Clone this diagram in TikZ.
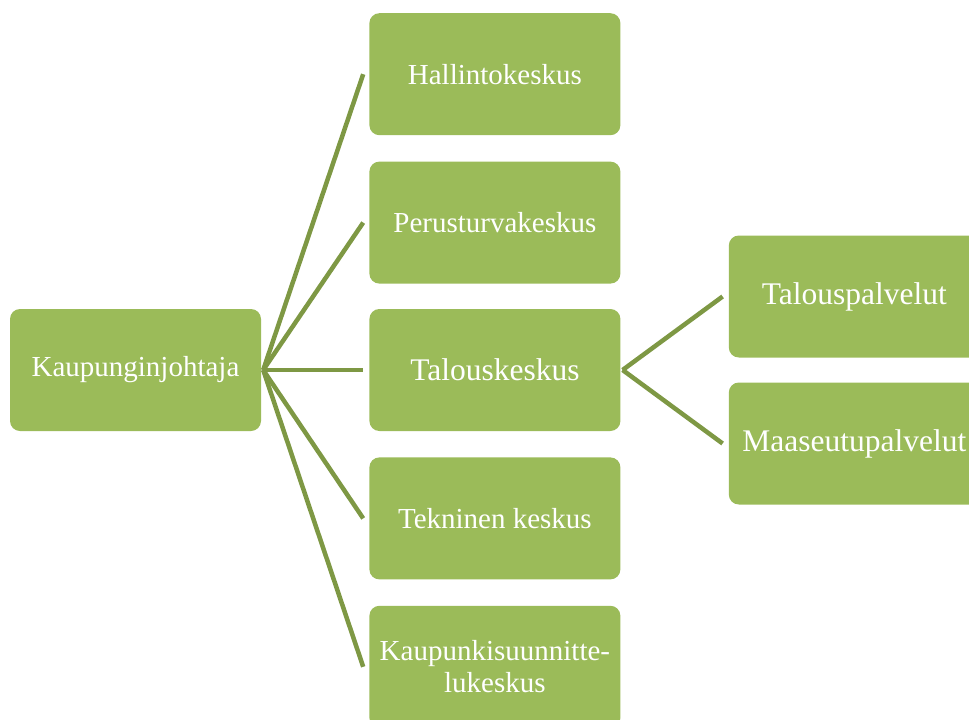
\documentclass[tikz,border=0pt]{standalone}
\usepackage{fontspec}
\setmainfont{Liberation Serif}
\usetikzlibrary{positioning}
\definecolor{boxgreen}{RGB}{155,187,89}
\definecolor{linegreen}{RGB}{126,152,68}

\begin{document}
\begin{tikzpicture}[
  unit/.style={fill=boxgreen, text=white, rounded corners=10pt, inner sep=0pt,
    minimum width=251pt, minimum height=122pt, align=center,
    font=\fontsize{29}{32}\selectfont},
  bigunit/.style={unit, font=\fontsize{31.5}{34}\selectfont},
  branch/.style={draw=linegreen, line width=4.5pt}
]
  \useasboundingbox (0pt,0pt) rectangle (969pt,-720pt);
  \node[unit] (johtaja) at (135.5pt,-370pt) {Kaupunginjohtaja};
  \node[bigunit, right=108pt of johtaja] (talous) {Talouskeskus};
  \node[unit, above=25pt of talous] (perus) {Perusturvakeskus};
  \node[unit, above=26pt of perus] (hallinto) {Hallintokeskus};
  \node[unit, below=26pt of talous] (tekn) {Tekninen keskus};
  \node[unit, below=26pt of tekn] (kaava) {Kaupunkisuunnitte-\\lukeskus};
  \node[bigunit, right=108pt of talous, yshift=73.5pt] (tpalv) {Talouspalvelut};
  \node[bigunit, right=108pt of talous, yshift=-73.5pt] (mpalv) {Maaseutupalvelut};

  % connectors
  \foreach \b in {hallinto, perus, talous, tekn, kaava}
    \draw[branch] ([xshift=2pt]johtaja.east) -- ([xshift=-6pt]\b.west);
  \foreach \b in {tpalv, mpalv}
    \draw[branch] ([xshift=2pt]talous.east) -- ([xshift=-6pt]\b.west);
\end{tikzpicture}
\end{document}
